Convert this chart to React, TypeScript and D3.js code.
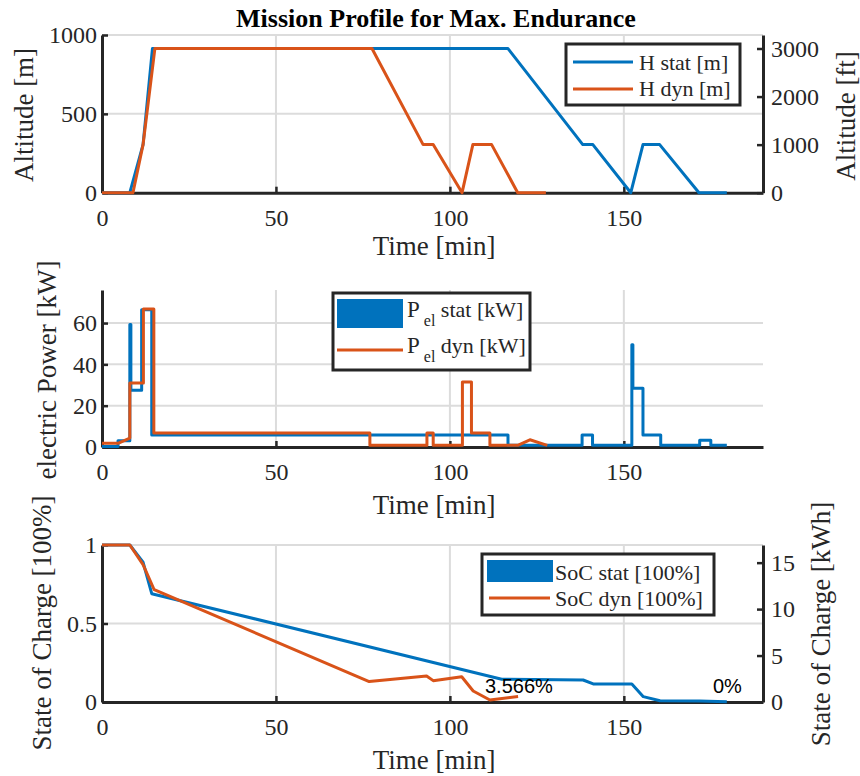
import React, { useEffect, useRef } from 'react'

import * as d3 from 'd3'

const timeTicks = [0, 50, 100, 150]

// altitude [m]
const hStatT = [0, 8, 11.8, 14.5, 116.7, 138.2, 141.1, 152, 155.5, 160.3, 171.6, 179.6]
const hStatV = [0, 0, 305, 914, 914, 305, 305, 0, 305, 305, 0, 0]
const hDynT = [0, 8.9, 11.8, 15.2, 77.6, 92.3, 95.2, 103.5, 106.6, 112, 119.5, 127.6]
const hDynV = [0, 0, 305, 914, 914, 305, 305, 0, 305, 305, 0, 0]
const altTicks = [0, 500, 1000]
const altFtTicks = [0, 1000, 2000, 3000]

// electric power [kW]
const pStatT = [0, 4.6, 4.6, 8, 8, 8.3, 8.3, 11.4, 11.4, 14.3, 14.3, 116.7, 116.7, 138, 138, 141, 141, 152.3, 152.3, 152.6, 152.6, 155.5, 155.5, 160.6, 160.6, 171.8, 171.8, 175, 175, 179.6]
const pStatV = [0.3, 0.3, 3, 3, 59.3, 59.3, 27.5, 27.5, 66.5, 66.5, 5.8, 5.8, 0.8, 0.8, 5.8, 5.8, 0.8, 0.8, 49.5, 49.5, 28.4, 28.4, 5.8, 5.8, 0.8, 0.8, 3.3, 3.3, 0.8, 0.8]
const pDynT = [0, 4.6, 8, 8, 11.9, 11.9, 14.9, 14.9, 77, 77, 93.4, 93.4, 95.2, 95.2, 103.6, 103.6, 106.2, 106.2, 111.5, 111.5, 119.5, 123, 128]
const pDynV = [1.8, 1.8, 4.3, 31, 31, 66.8, 66.8, 6.8, 6.8, 0.8, 0.8, 6.8, 6.8, 0.8, 0.8, 31.5, 31.5, 6.8, 6.8, 0.8, 0.8, 3.5, 0.8]
const powerTicks = [0, 20, 40, 60]

// state of charge [-]
const socStatT = [0, 8, 11.8, 14.3, 114.9, 138.3, 141.2, 152.3, 155.6, 160.4, 171.8, 179.6]
const socStatV = [1, 1, 0.89, 0.69, 0.145, 0.14, 0.115, 0.115, 0.034, 0.008, 0.006, 0.002]
const socDynT = [0, 8, 11.8, 15, 76.8, 93.3, 95.2, 103.4, 106.7, 111.5, 119.6]
const socDynV = [1, 1, 0.875, 0.715, 0.13, 0.166, 0.136, 0.161, 0.07, 0.013, 0.0357]
const socTicks = [0, 0.5, 1]
const kwhTicks = [0, 5, 10, 15]

const BLUE = '#0072BD'
const ORANGE = '#D95319'
const INK = '#262626'
const SERIF = '"Liberation Serif", "Times New Roman", serif'
const SANS = '"Liberation Sans", Arial, sans-serif'

const App = () => {
  const svgRef = useRef(null)

  useEffect(() => {
    if (!svgRef.current) return
    const svg = d3.select(svgRef.current)
    svg.selectAll('*').remove()

    const x = d3.scaleLinear().domain([0, 190]).range([102, 763])

    const styleAxis = (g) => {
      g.attr('color', INK)
      g.selectAll('text').attr('font-family', SERIF).attr('font-size', 24).attr('fill', INK)
      g.select('.domain').attr('stroke-width', 3)
      g.selectAll('.tick line').attr('stroke-width', 2.5)
    }

    const panel = (y, yTicks, yFmt, yR = null, yRTicks = null) => {
      const [yb, yt] = y.range()
      const g = svg.append('g')
      // grid
      g.append('g')
        .selectAll('line')
        .data(timeTicks.filter((d) => d > 0))
        .join('line')
        .attr('x1', (d) => x(d))
        .attr('x2', (d) => x(d))
        .attr('y1', yt)
        .attr('y2', yb)
        .attr('stroke', '#dcdcdc')
        .attr('stroke-width', 2)
      g.append('g')
        .selectAll('line')
        .data(yTicks.filter((d) => d > 0))
        .join('line')
        .attr('x1', 102)
        .attr('x2', 763)
        .attr('y1', (d) => y(d))
        .attr('y2', (d) => y(d))
        .attr('stroke', '#dcdcdc')
        .attr('stroke-width', 2)

      g.append('g')
        .attr('transform', `translate(0,${yb})`)
        .call(d3.axisBottom(x).tickValues(timeTicks).tickSize(-6).tickSizeOuter(0).tickPadding(16))
        .call(styleAxis)
      g.append('g')
        .attr('transform', 'translate(102,0)')
        .call(d3.axisLeft(y).tickValues(yTicks).tickFormat(yFmt).tickSize(-6).tickSizeOuter(0).tickPadding(5))
        .call(styleAxis)
      if (yR) {
        g.append('g')
          .attr('transform', 'translate(763,0)')
          .call(d3.axisRight(yR).tickValues(yRTicks).tickFormat(d3.format('d')).tickSize(-6).tickSizeOuter(0).tickPadding(8))
          .call(styleAxis)
      }
      return g
    }

    const drawLine = (g, T, V, y, color) => {
      g.append('path')
        .datum(d3.zip(T, V))
        .attr('fill', 'none')
        .attr('stroke', color)
        .attr('stroke-width', 3)
        .attr('stroke-linejoin', 'round')
        .attr('d', d3.line().x((d) => x(d[0])).y((d) => y(d[1])))
    }

    const label = (tx, ty, text, rotate = false) => {
      svg
        .append('text')
        .attr('transform', rotate ? `translate(${tx},${ty}) rotate(-90)` : `translate(${tx},${ty})`)
        .attr('text-anchor', 'middle')
        .attr('font-family', SERIF)
        .attr('font-size', 27)
        .attr('fill', INK)
        .text(text)
    }

    const legend = (bx, by, bw, bh) => {
      const lg = svg.append('g')
      lg.append('rect')
        .attr('x', bx)
        .attr('y', by)
        .attr('width', bw)
        .attr('height', bh)
        .attr('fill', '#fff')
        .attr('stroke', INK)
        .attr('stroke-width', 3)
      return lg
    }

    const legText = (lg, tx, ty, parts) => {
      const t = lg.append('text')
        .attr('x', tx)
        .attr('y', ty)
        .attr('font-family', SERIF)
        .attr('font-size', 22)
        .attr('fill', INK)
        .style('white-space', 'pre')
      parts.forEach((p) => {
        t.append('tspan').attr('dy', p.dy || 0).attr('font-size', p.size || 22).text(p.s)
      })
    }

    // title
    svg.append('text')
      .attr('x', 436)
      .attr('y', 27)
      .attr('text-anchor', 'middle')
      .attr('font-family', SERIF)
      .attr('font-size', 26)
      .attr('font-weight', 'bold')
      .attr('fill', '#000')
      .text('Mission Profile for Max. Endurance')

    // ---- altitude ----
    const yAlt = d3.scaleLinear().domain([0, 1000]).range([192.7, 35])
    const yAltFt = d3.scaleLinear().domain([0, 1000 / 0.3048]).range([192.7, 35])
    const g1 = panel(yAlt, altTicks, d3.format('d'), yAltFt, altFtTicks)
    drawLine(g1, hStatT, hStatV, yAlt, BLUE)
    drawLine(g1, hDynT, hDynV, yAlt, ORANGE)
    label(33, 115, 'Altitude [m]', true)
    label(855, 116, 'Altitude [ft]', true)
    label(434, 255, 'Time [min]')

    const l1 = legend(566, 44, 174, 61)
    l1.append('line').attr('x1', 573).attr('x2', 633).attr('y1', 62).attr('y2', 62).attr('stroke', BLUE).attr('stroke-width', 3)
    l1.append('line').attr('x1', 573).attr('x2', 633).attr('y1', 89).attr('y2', 89).attr('stroke', ORANGE).attr('stroke-width', 3)
    legText(l1, 639, 70, [{ s: 'H stat [m]' }])
    legText(l1, 639, 96, [{ s: 'H dyn [m]' }])

    // ---- power ----
    const yPow = d3.scaleLinear().domain([0, 76]).range([447, 290])
    const g2 = panel(yPow, powerTicks, d3.format('d'))
    drawLine(g2, pStatT, pStatV, yPow, BLUE)
    drawLine(g2, pDynT, pDynV, yPow, ORANGE)
    label(56, 370, 'electric Power [kW]', true)
    label(434, 514, 'Time [min]')

    const l2 = legend(333, 293, 197, 77)
    l2.append('rect').attr('x', 337).attr('y', 299).attr('width', 66).attr('height', 29).attr('fill', BLUE)
    l2.append('line').attr('x1', 337).attr('x2', 403).attr('y1', 350).attr('y2', 350).attr('stroke', ORANGE).attr('stroke-width', 3)
    legText(l2, 407, 317, [{ s: 'P', size: 23 }, { s: ' el', size: 16, dy: 9 }, { s: ' stat [kW]', dy: -9 }])
    legText(l2, 407, 353, [{ s: 'P', size: 23 }, { s: ' el', size: 16, dy: 9 }, { s: ' dyn [kW]', dy: -9 }])

    // ---- state of charge ----
    const ySoc = d3.scaleLinear().domain([0, 1]).range([702, 545])
    const yKwh = d3.scaleLinear().domain([0, 16.9]).range([702, 545])
    const g3 = panel(ySoc, socTicks, d3.format('~g'), yKwh, kwhTicks)
    drawLine(g3, socStatT, socStatV, ySoc, BLUE)
    drawLine(g3, socDynT, socDynV, ySoc, ORANGE)
    label(51, 623, 'State of Charge [100%]', true)
    label(830, 624, 'State of Charge [kWh]', true)
    label(434, 769, 'Time [min]')

    svg.append('text')
      .attr('x', 485)
      .attr('y', 693)
      .attr('font-family', SANS)
      .attr('font-size', 20)
      .attr('fill', '#000')
      .text('3.566%')
    svg.append('text')
      .attr('x', 713)
      .attr('y', 693)
      .attr('font-family', SANS)
      .attr('font-size', 20)
      .attr('fill', '#000')
      .text('0%')

    const l3 = legend(482, 554, 232, 61)
    l3.append('rect').attr('x', 487).attr('y', 560).attr('width', 66).attr('height', 22).attr('fill', BLUE)
    l3.append('line').attr('x1', 489).attr('x2', 550).attr('y1', 598).attr('y2', 598).attr('stroke', ORANGE).attr('stroke-width', 3)
    legText(l3, 555, 580, [{ s: 'SoC stat [100%]' }])
    legText(l3, 555, 606, [{ s: 'SoC dyn [100%]' }])
  }, [])

  return (
    <svg
      ref={svgRef}
      width={860}
      height={776}
      style={{ position: 'absolute', left: 0, top: 0, background: '#fff' }}
    ></svg>
  )
}

export default App
